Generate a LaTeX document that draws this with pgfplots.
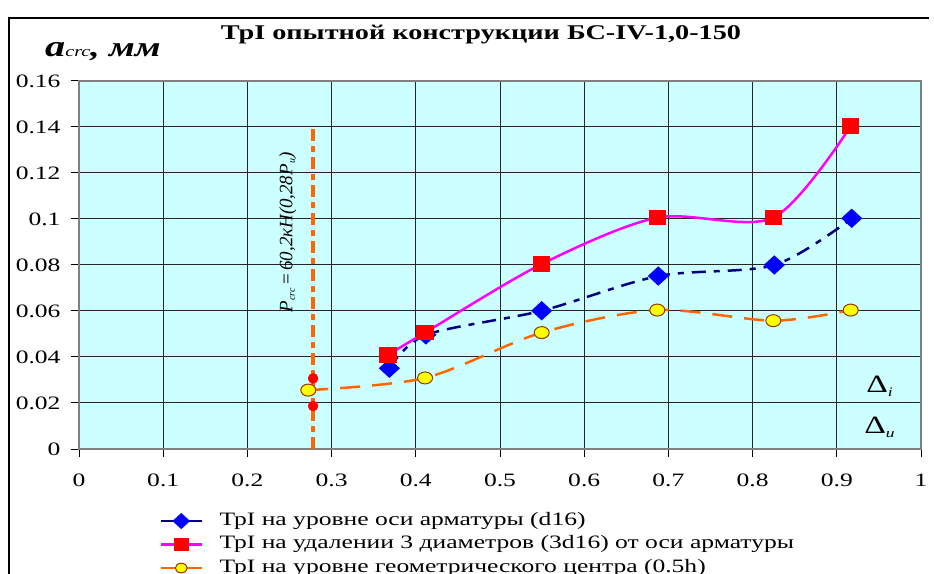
\documentclass[border=0pt]{standalone}
\usepackage{fontspec}
\setmainfont{Liberation Serif}[FakeStretch=1.35]
\newfontfamily\plainserif{Liberation Serif}
\usepackage{pgfplots}
\pgfplotsset{compat=1.18}
\definecolor{bgc}{HTML}{CCFFFF}
\definecolor{navyc}{HTML}{000080}
\definecolor{bluem}{HTML}{0000FF}
\definecolor{magc}{HTML}{FF00FF}
\definecolor{redm}{HTML}{FF0000}
\definecolor{orc}{HTML}{FF6600}
\definecolor{yelm}{HTML}{FFFF00}
\definecolor{brn}{HTML}{993300}
\begin{document}
\begin{tikzpicture}
\useasboundingbox (0bp,0bp) rectangle (934bp,574bp);
\clip (0bp,0bp) rectangle (934bp,574bp);
\draw[line width=1.2bp] (9bp,-5bp) -- (9bp,556bp) -- (929bp,556bp);
\node[font=\fontsize{21}{24}\selectfont\bfseries, anchor=base] at (481bp,534bp) {ТрI опытной конструкции БС-IV-1,0-150};
\node[anchor=base west, inner sep=0pt] at (45bp,517bp) {\fontsize{30}{32}\selectfont\bfseries\itshape a\fontsize{15}{17}\selectfont\mdseries crc\fontsize{28}{30}\selectfont\bfseries, мм};
\begin{axis}[
  at={(79bp,125bp)}, anchor=south west,
  scale only axis, width=842bp, height=368bp,
  xmin=0, xmax=1, ymin=0, ymax=0.16,
  xtick={0,0.1,0.2,0.3,0.4,0.5,0.6,0.7,0.8,0.9,1},
  xticklabels={0,0.1,0.2,0.3,0.4,0.5,0.6,0.7,0.8,0.9,1},
  ytick={0,0.02,0.04,0.06,0.08,0.1,0.12,0.14,0.16},
  yticklabels={0,0.02,0.04,0.06,0.08,0.1,0.12,0.14,0.16},
  tick label style={font=\fontsize{19}{22}\selectfont},
  xticklabel style={yshift=-13bp},
  yticklabel style={xshift=-7bp},
  tick pos=left, tick align=outside, major tick length=8bp,
  tick style={black, line width=1bp},
  grid=major, grid style={black!85, line width=1bp},
  axis line style={gray, line width=1.2bp},
  axis background/.style={fill=bgc},
  clip=false,
  legend style={at={(0.096,-0.166)}, anchor=north west, draw=none, fill=none,
    font=\fontsize{19}{22}\selectfont, row sep=2bp, column sep=15bp, inner sep=0pt,
    nodes={inner sep=2bp, text height=13bp, text depth=4.5bp}},
  legend cell align=left,
  legend image code/.code={\draw[mark repeat=2,mark phase=2,#1,solid,every mark/.append style={scale=0.8}] plot coordinates {(0bp,0bp)(20bp,0bp)(40bp,0bp)};},
]
\addplot[orc, line width=3.5bp, dash pattern=on 12bp off 5bp on 6bp off 5bp, forget plot] coordinates {(0.278,0) (0.278,0.14)};
\addplot[only marks, mark=*, mark size=5bp, redm, forget plot] coordinates {(0.278,0.0307) (0.278,0.0187)};
\addplot[navyc, line width=2.5bp, smooth, dash pattern=on 14bp off 8bp on 6bp off 8bp,
  mark=diamond*, mark size=8bp, mark options={solid, fill=bluem, draw=bluem, xscale=1.45}]
  coordinates {(0.3686,0.0351) (0.412,0.0496) (0.5495,0.0601) (0.688,0.0752) (0.8258,0.080) (0.9177,0.1003)};
\addlegendentry{ТрI на уровне оси арматуры (d16)}
\addplot[magc, line width=2.5bp, smooth,
  mark=square*, mark size=6.5bp, mark options={solid, fill=redm, draw=redm, xscale=1.15}]
  coordinates {(0.367,0.0409) (0.411,0.0506) (0.5495,0.0804) (0.6868,0.1006) (0.8246,0.1006) (0.9165,0.1404)};
\addlegendentry{ТрI на удалении 3 диаметров (3d16) от оси арматуры}
\addplot[orc, line width=2.5bp, smooth, dash pattern=on 20bp off 12bp,
  mark=*, mark size=6bp, mark options={solid, fill=yelm, draw=brn, line width=1bp, xscale=1.25}]
  coordinates {(0.2723,0.0256) (0.411,0.0309) (0.5495,0.0506) (0.6868,0.0604) (0.8246,0.0558) (0.9165,0.0604)};
\addlegendentry{ТрI на уровне геометрического центра (0.5h)}
\node[rotate=90, font=\plainserif\itshape\fontsize{19}{22}\selectfont] at (axis cs:0.248,0.0943) {P\textsubscript{\fontsize{10}{12}\selectfont crc}\,{\upshape =}\,60,2кН(0,28P\textsubscript{\fontsize{10}{12}\selectfont и})};
\node[font=\fontsize{25}{28}\selectfont] at (axis cs:0.951,0.0274) {Δ\textsubscript{\itshape\fontsize{13}{15}\selectfont i}};
\node[font=\fontsize{25}{28}\selectfont] at (axis cs:0.951,0.0094) {Δ\textsubscript{\itshape\fontsize{13}{15}\selectfont и}};
\end{axis}
\end{tikzpicture}
\end{document}
